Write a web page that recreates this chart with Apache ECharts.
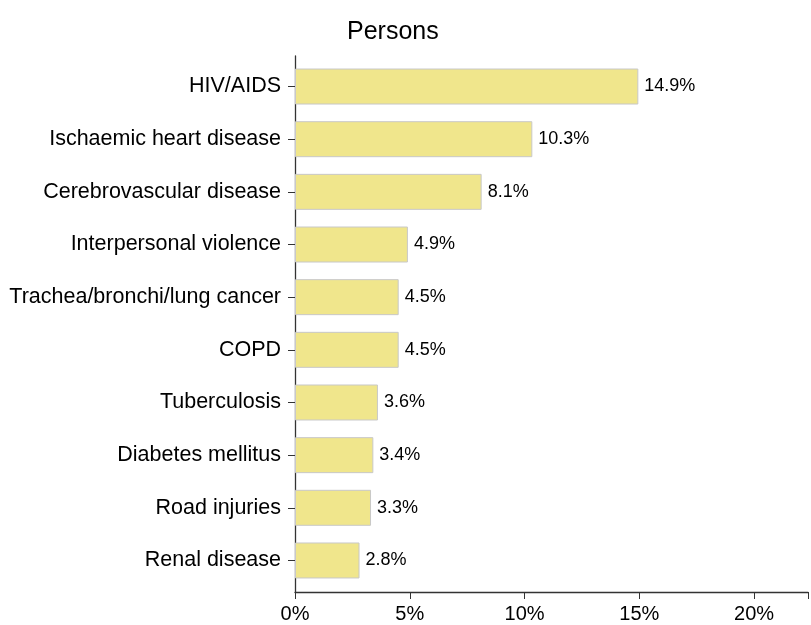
<!DOCTYPE html>
<html>
<head>
<meta charset="utf-8">
<script src="https://cdn.jsdelivr.net/npm/echarts@6/dist/echarts.min.js"></script>
<style>html,body{margin:0;padding:0;background:#fff}#c{width:811px;height:625px}</style>
</head>
<body>
<div id="c"></div>
<script>
const categories = ["HIV/AIDS","Ischaemic heart disease","Cerebrovascular disease","Interpersonal violence","Trachea/bronchi/lung cancer","COPD","Tuberculosis","Diabetes mellitus","Road injuries","Renal disease"];
const values = [14.9, 10.3, 8.1, 4.9, 4.5, 4.5, 3.6, 3.4, 3.3, 2.8];
const xTicks = [0, 5, 10, 15, 20];
const titleText = "Persons";

const xMax = 22.35;
const font = "Liberation Sans, Arial, Helvetica, sans-serif";
const chart = echarts.init(document.getElementById('c'), null, {renderer: 'canvas'});
chart.setOption({
  animation: false,
  backgroundColor: '#fff',
  title: {text: titleText, left: 342, top: 15, textStyle: {fontFamily: font, fontSize: 25, fontWeight: 'normal', color: '#000'}},
  grid: [
    {left: 295, right: 1, top: 60.2, bottom: 625 - 586.8, containLabel: false},
    {left: 295, right: 1, top: 56, bottom: 625 - 592, containLabel: false}
  ],
  xAxis: [
    {gridIndex: 0, type: 'value', min: 0, max: xMax, show: false},
    {gridIndex: 1, type: 'value', min: 0, max: xMax, interval: 5,
     axisLine: {show: true, lineStyle: {color: '#333', width: 1.3}},
     axisTick: {show: true, length: 7, lineStyle: {color: '#333'}},
     splitLine: {show: false},
     axisLabel: {color: '#000', fontSize: 20, fontFamily: font, margin: 12,
       formatter: v => xTicks.includes(v) ? v + '%' : ''}}
  ],
  yAxis: [
    {gridIndex: 0, type: 'category', data: categories, inverse: true,
     axisLine: {show: false},
     axisTick: {show: true, alignWithLabel: true, length: 7, lineStyle: {color: '#333'}},
     axisLabel: {color: '#000', fontSize: 21.5, fontFamily: font, margin: 14}},
    {gridIndex: 1, type: 'value', min: 0, max: 1,
     axisLine: {show: true, lineStyle: {color: '#333', width: 1.3}},
     axisTick: {show: false}, axisLabel: {show: false}, splitLine: {show: false}}
  ],
  series: [{
    type: 'bar', xAxisIndex: 0, yAxisIndex: 0, data: values, barWidth: 36,
    itemStyle: {color: '#F0E68C', borderColor: '#c8c8c8', borderWidth: 1},
    label: {show: true, position: 'right', distance: 6, formatter: p => p.value.toFixed(1) + '%',
            color: '#000', fontSize: 18, fontFamily: font}
  }]
});
</script>
</body>
</html>
